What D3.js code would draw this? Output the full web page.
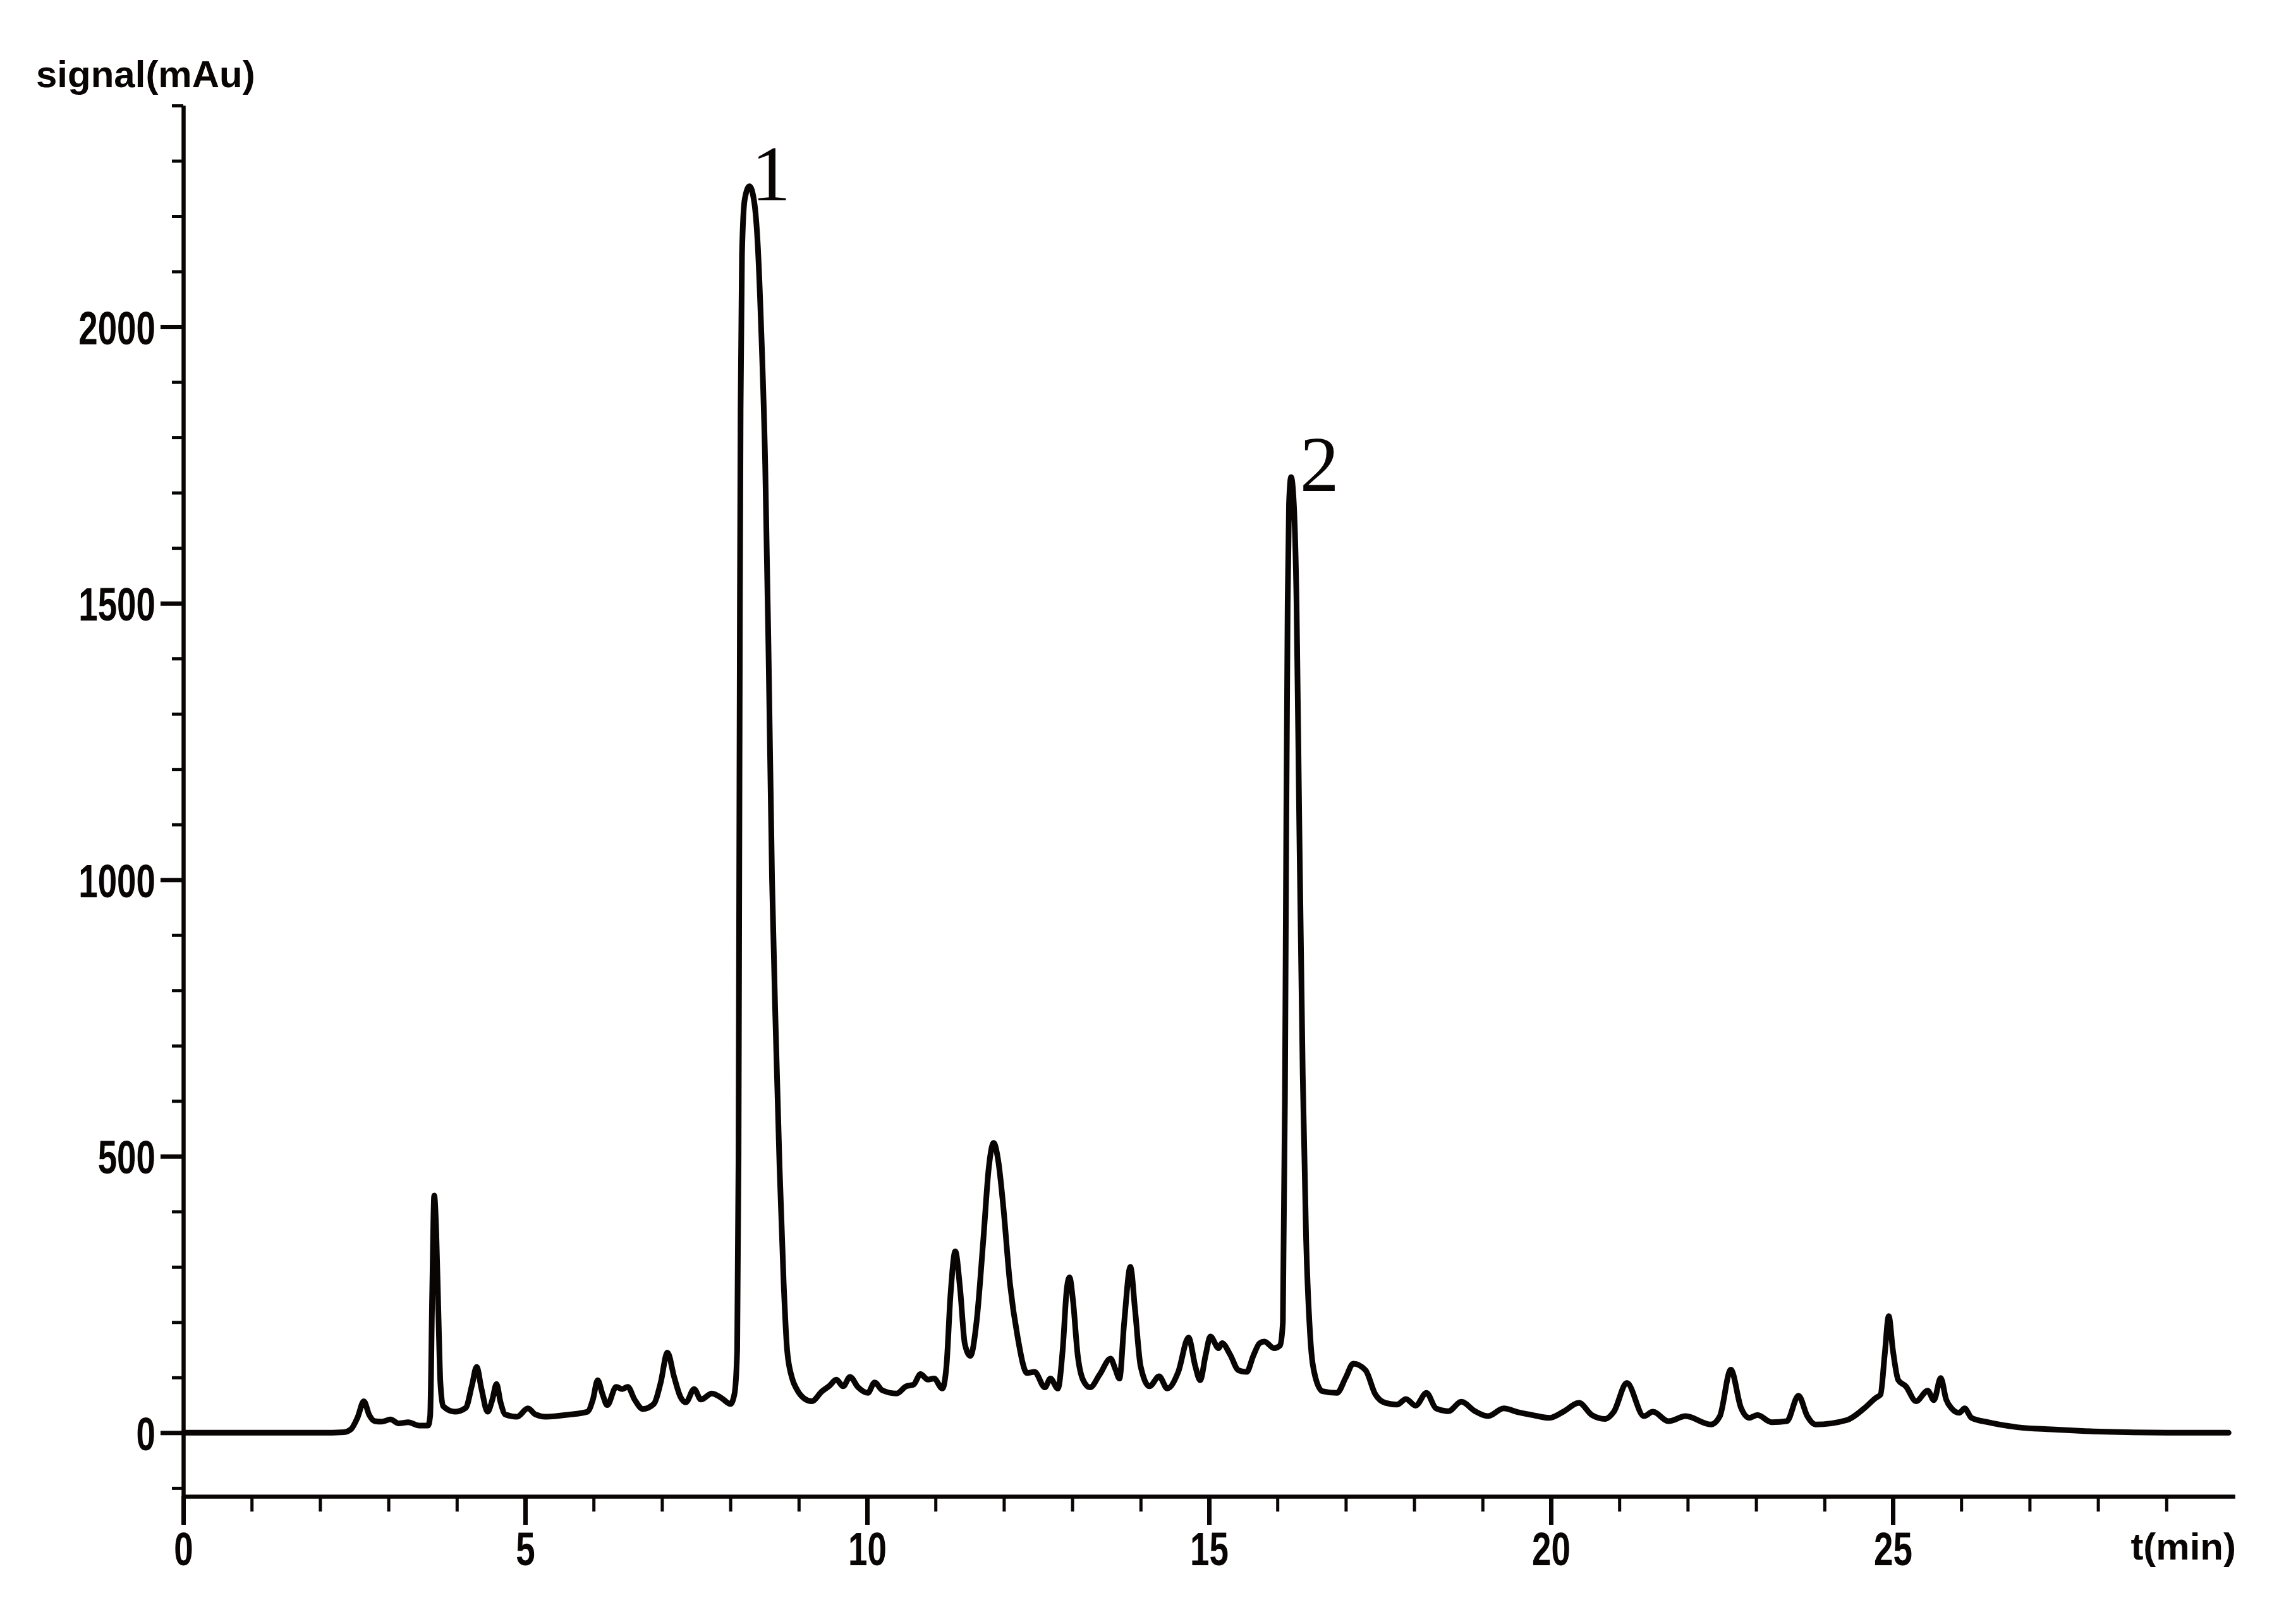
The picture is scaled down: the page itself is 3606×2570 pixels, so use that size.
<!DOCTYPE html>
<html>
<head>
<meta charset="utf-8">
<script src="https://cdn.jsdelivr.net/npm/d3@7"></script>
<style>
  html, body { margin: 0; padding: 0; background: #fff; }
  svg { display: block; }
</style>
</head>
<body>
<svg id="chart"></svg>
<script>
// digitized chromatogram (t in min, signal in mAu)
const retentionTime = [
  0.00, 1.00, 2.00, 2.35, 2.45, 2.55, 2.64, 2.72, 2.80, 2.90, 3.03, 3.15, 3.29, 3.45, 3.58,
  3.61, 3.64, 3.67, 3.70, 3.73, 3.76, 3.80, 3.97, 4.13, 4.22, 4.29, 4.36, 4.45, 4.52, 4.58,
  4.64, 4.71, 4.88, 5.04, 5.15, 5.30, 5.65, 5.91, 5.99, 6.06, 6.13, 6.20, 6.33, 6.42, 6.50,
  6.60, 6.72, 6.88, 6.98, 7.08, 7.18, 7.27, 7.35, 7.47, 7.57, 7.73, 7.88, 8.00, 8.06, 8.10,
  8.12, 8.13, 8.14, 8.15, 8.17, 8.21, 8.28, 8.35, 8.40, 8.45, 8.51, 8.56, 8.61, 8.67, 8.72,
  8.78, 8.83, 8.90, 8.97, 9.08, 9.19, 9.34, 9.45, 9.55, 9.65, 9.75, 9.87, 10.01, 10.11, 10.22,
  10.43, 10.57, 10.68, 10.78, 10.89, 10.98, 11.10, 11.16, 11.22, 11.29, 11.36, 11.43, 11.51, 11.60, 11.70,
  11.78, 11.85, 11.92, 11.99, 12.09, 12.20, 12.34, 12.45, 12.60, 12.68, 12.79, 12.86, 12.92, 12.96, 13.01,
  13.08, 13.16, 13.26, 13.40, 13.56, 13.63, 13.69, 13.76, 13.85, 13.92, 14.00, 14.13, 14.27, 14.39, 14.55,
  14.70, 14.80, 14.87, 14.95, 15.02, 15.14, 15.19, 15.31, 15.43, 15.55, 15.65, 15.74, 15.81, 15.95, 16.04,
  16.08, 16.11, 16.13, 16.15, 16.17, 16.20, 16.24, 16.28, 16.32, 16.37, 16.42, 16.48, 16.55, 16.66, 16.87,
  17.00, 17.11, 17.29, 17.43, 17.58, 17.75, 17.88, 18.02, 18.18, 18.32, 18.50, 18.69, 18.89, 19.08, 19.31,
  19.52, 19.73, 19.98, 20.18, 20.41, 20.60, 20.79, 20.92, 21.11, 21.36, 21.49, 21.72, 21.97, 22.34, 22.47,
  22.63, 22.78, 22.90, 23.02, 23.23, 23.45, 23.62, 23.75, 23.87, 24.33, 24.58, 24.75, 24.82, 24.88, 24.94,
  25.00, 25.08, 25.19, 25.34, 25.51, 25.60, 25.70, 25.78, 25.86, 25.97, 26.05, 26.15, 26.39, 26.82, 27.32,
  28.03, 29.00, 29.91
];
const signalMAu = [
  0, 0, 0, 1, 6, 28, 57, 32, 21, 20, 24, 17, 19, 13, 13,
  30, 250, 429, 360, 220, 90, 48, 38, 45, 85, 119, 80, 38, 60, 88,
  55, 33, 29, 44, 33, 29, 33, 38, 60, 95, 70, 50, 83, 79, 83,
  60, 43, 52, 90, 145, 100, 65, 55, 79, 60, 71, 62, 52, 70, 150,
  500, 1000, 1500, 1850, 2130, 2230, 2254, 2225, 2150, 2000, 1750, 1400, 1000, 700, 480,
  270, 150, 100, 79, 62, 57, 75, 85, 96, 84, 101, 82, 72, 91, 77,
  71, 84, 87, 106, 96, 98, 80, 120, 250, 328, 260, 160, 139, 200, 350,
  480, 524, 490, 411, 269, 174, 108, 110, 82, 98, 80, 150, 260, 281, 240,
  140, 95, 82, 105, 134, 115, 98, 200, 300, 220, 120, 84, 102, 80, 110,
  172, 120, 95, 140, 174, 153, 162, 141, 113, 110, 140, 162, 165, 153, 158,
  200, 600, 1100, 1500, 1680, 1728, 1680, 1500, 1100, 650, 350, 174, 103, 75, 72,
  100, 125, 113, 70, 54, 51, 61, 49, 72, 44, 39, 56, 39, 30, 44,
  37, 32, 27, 38, 54, 32, 25, 38, 90, 30, 38, 21, 30, 15, 30,
  114, 45, 27, 32, 19, 21, 67, 30, 15, 23, 44, 63, 69, 140, 211,
  150, 95, 84, 57, 76, 59, 99, 60, 44, 36, 44, 27, 19, 10, 6,
  2, 0, 0
];

const xMajorTicks = [0, 5, 10, 15, 20, 25];
const xMinorTicks = [1, 2, 3, 4, 6, 7, 8, 9, 11, 12, 13, 14, 16, 17, 18, 19,
  21, 22, 23, 24, 26, 27, 28, 29];
const yMajorTicks = [0, 500, 1000, 1500, 2000];
const yMinorTicks = [-100, 100, 200, 300, 400, 600, 700, 800, 900, 1100, 1200, 1300, 1400,
  1600, 1700, 1800, 1900, 2100, 2200, 2300, 2400];

const peakNames = ['1', '2'];
const peakTimes = [8.28, 16.20];
const peakHeights = [2254, 1728];

const W = 3606, H = 2570;
const plotLeft = 290, plotRight = 3536, plotTop = 167, plotBottom = 2368;

const svg = d3.select('#chart').attr('width', W).attr('height', H)
    .style('background', '#fff');

const x = d3.scaleLinear().domain([0, 30]).range([plotLeft, plotRight]);
const y = d3.scaleLinear().domain([-115, 2400]).range([plotBottom, plotTop]);

const ink = '#0a0505';
const squeeze = 0.73;   // tick digits are set in a condensed face

// y axis
const gy = svg.append('g').attr('transform', `translate(${plotLeft},0)`);
gy.call(d3.axisLeft(y).tickValues(yMinorTicks).tickSize(18).tickSizeOuter(0).tickFormat(''));
gy.selectAll('.tick line').attr('stroke-width', 5);
const gyMajor = gy.append('g')
    .call(d3.axisLeft(y).tickValues(yMajorTicks).tickSize(36).tickSizeOuter(0)
        .tickFormat(d3.format('d')));
gyMajor.selectAll('.tick line').attr('stroke-width', 7);
gyMajor.selectAll('.tick text')
    .attr('x', -44 / squeeze)
    .attr('dy', '0.36em');
gy.selectAll('.domain').attr('stroke', ink).attr('stroke-width', 6);

// x axis
const gx = svg.append('g').attr('transform', `translate(0,${plotBottom})`);
gx.call(d3.axisBottom(x).tickValues(xMinorTicks).tickSize(24).tickSizeOuter(0).tickFormat(''));
gx.selectAll('.tick line').attr('stroke-width', 5);
const gxMajor = gx.append('g')
    .call(d3.axisBottom(x).tickValues(xMajorTicks).tickSize(45).tickSizeOuter(0).tickPadding(11));
gxMajor.selectAll('.tick line').attr('stroke-width', 7);
gx.selectAll('.domain').attr('stroke', ink).attr('stroke-width', 6);

svg.selectAll('.tick line').attr('stroke', ink);
svg.selectAll('.tick text')
    .attr('fill', ink)
    .attr('transform', `scale(${squeeze},1)`)
    .style('font-family', '"Liberation Sans", Arial, sans-serif')
    .style('font-weight', 'bold')
    .style('font-size', '75px');

// trace
const line = d3.line()
    .x(i => x(retentionTime[i]))
    .y(i => y(signalMAu[i]))
    .curve(d3.curveMonotoneX);

svg.append('path')
    .datum(d3.range(retentionTime.length))
    .attr('d', line)
    .attr('fill', 'none')
    .attr('stroke', ink)
    .attr('stroke-width', 9)
    .attr('stroke-linejoin', 'round')
    .attr('stroke-linecap', 'round');

// peak numbers
const labelNudge = [3, 14];
svg.selectAll('.peaklabel')
    .data(peakNames)
    .join('text')
    .attr('class', 'peaklabel')
    .attr('x', (d, i) => x(peakTimes[i]) + labelNudge[i])
    .attr('y', (d, i) => y(peakHeights[i]) + 22)
    .attr('fill', ink)
    .style('font-family', '"Liberation Serif", "Times New Roman", serif')
    .style('font-size', '124px')
    .text(d => d);

// axis titles
svg.append('text')
    .attr('x', 57).attr('y', 138)
    .attr('fill', ink)
    .style('font-family', '"Liberation Sans", Arial, sans-serif')
    .style('font-weight', 'bold')
    .style('font-size', '60px')
    .text('signal(mAu)');

svg.append('text')
    .attr('x', 3538).attr('y', 2468)
    .attr('text-anchor', 'end')
    .attr('fill', ink)
    .style('font-family', '"Liberation Sans", Arial, sans-serif')
    .style('font-weight', 'bold')
    .style('font-size', '60px')
    .text('t(min)');
</script>
</body>
</html>
